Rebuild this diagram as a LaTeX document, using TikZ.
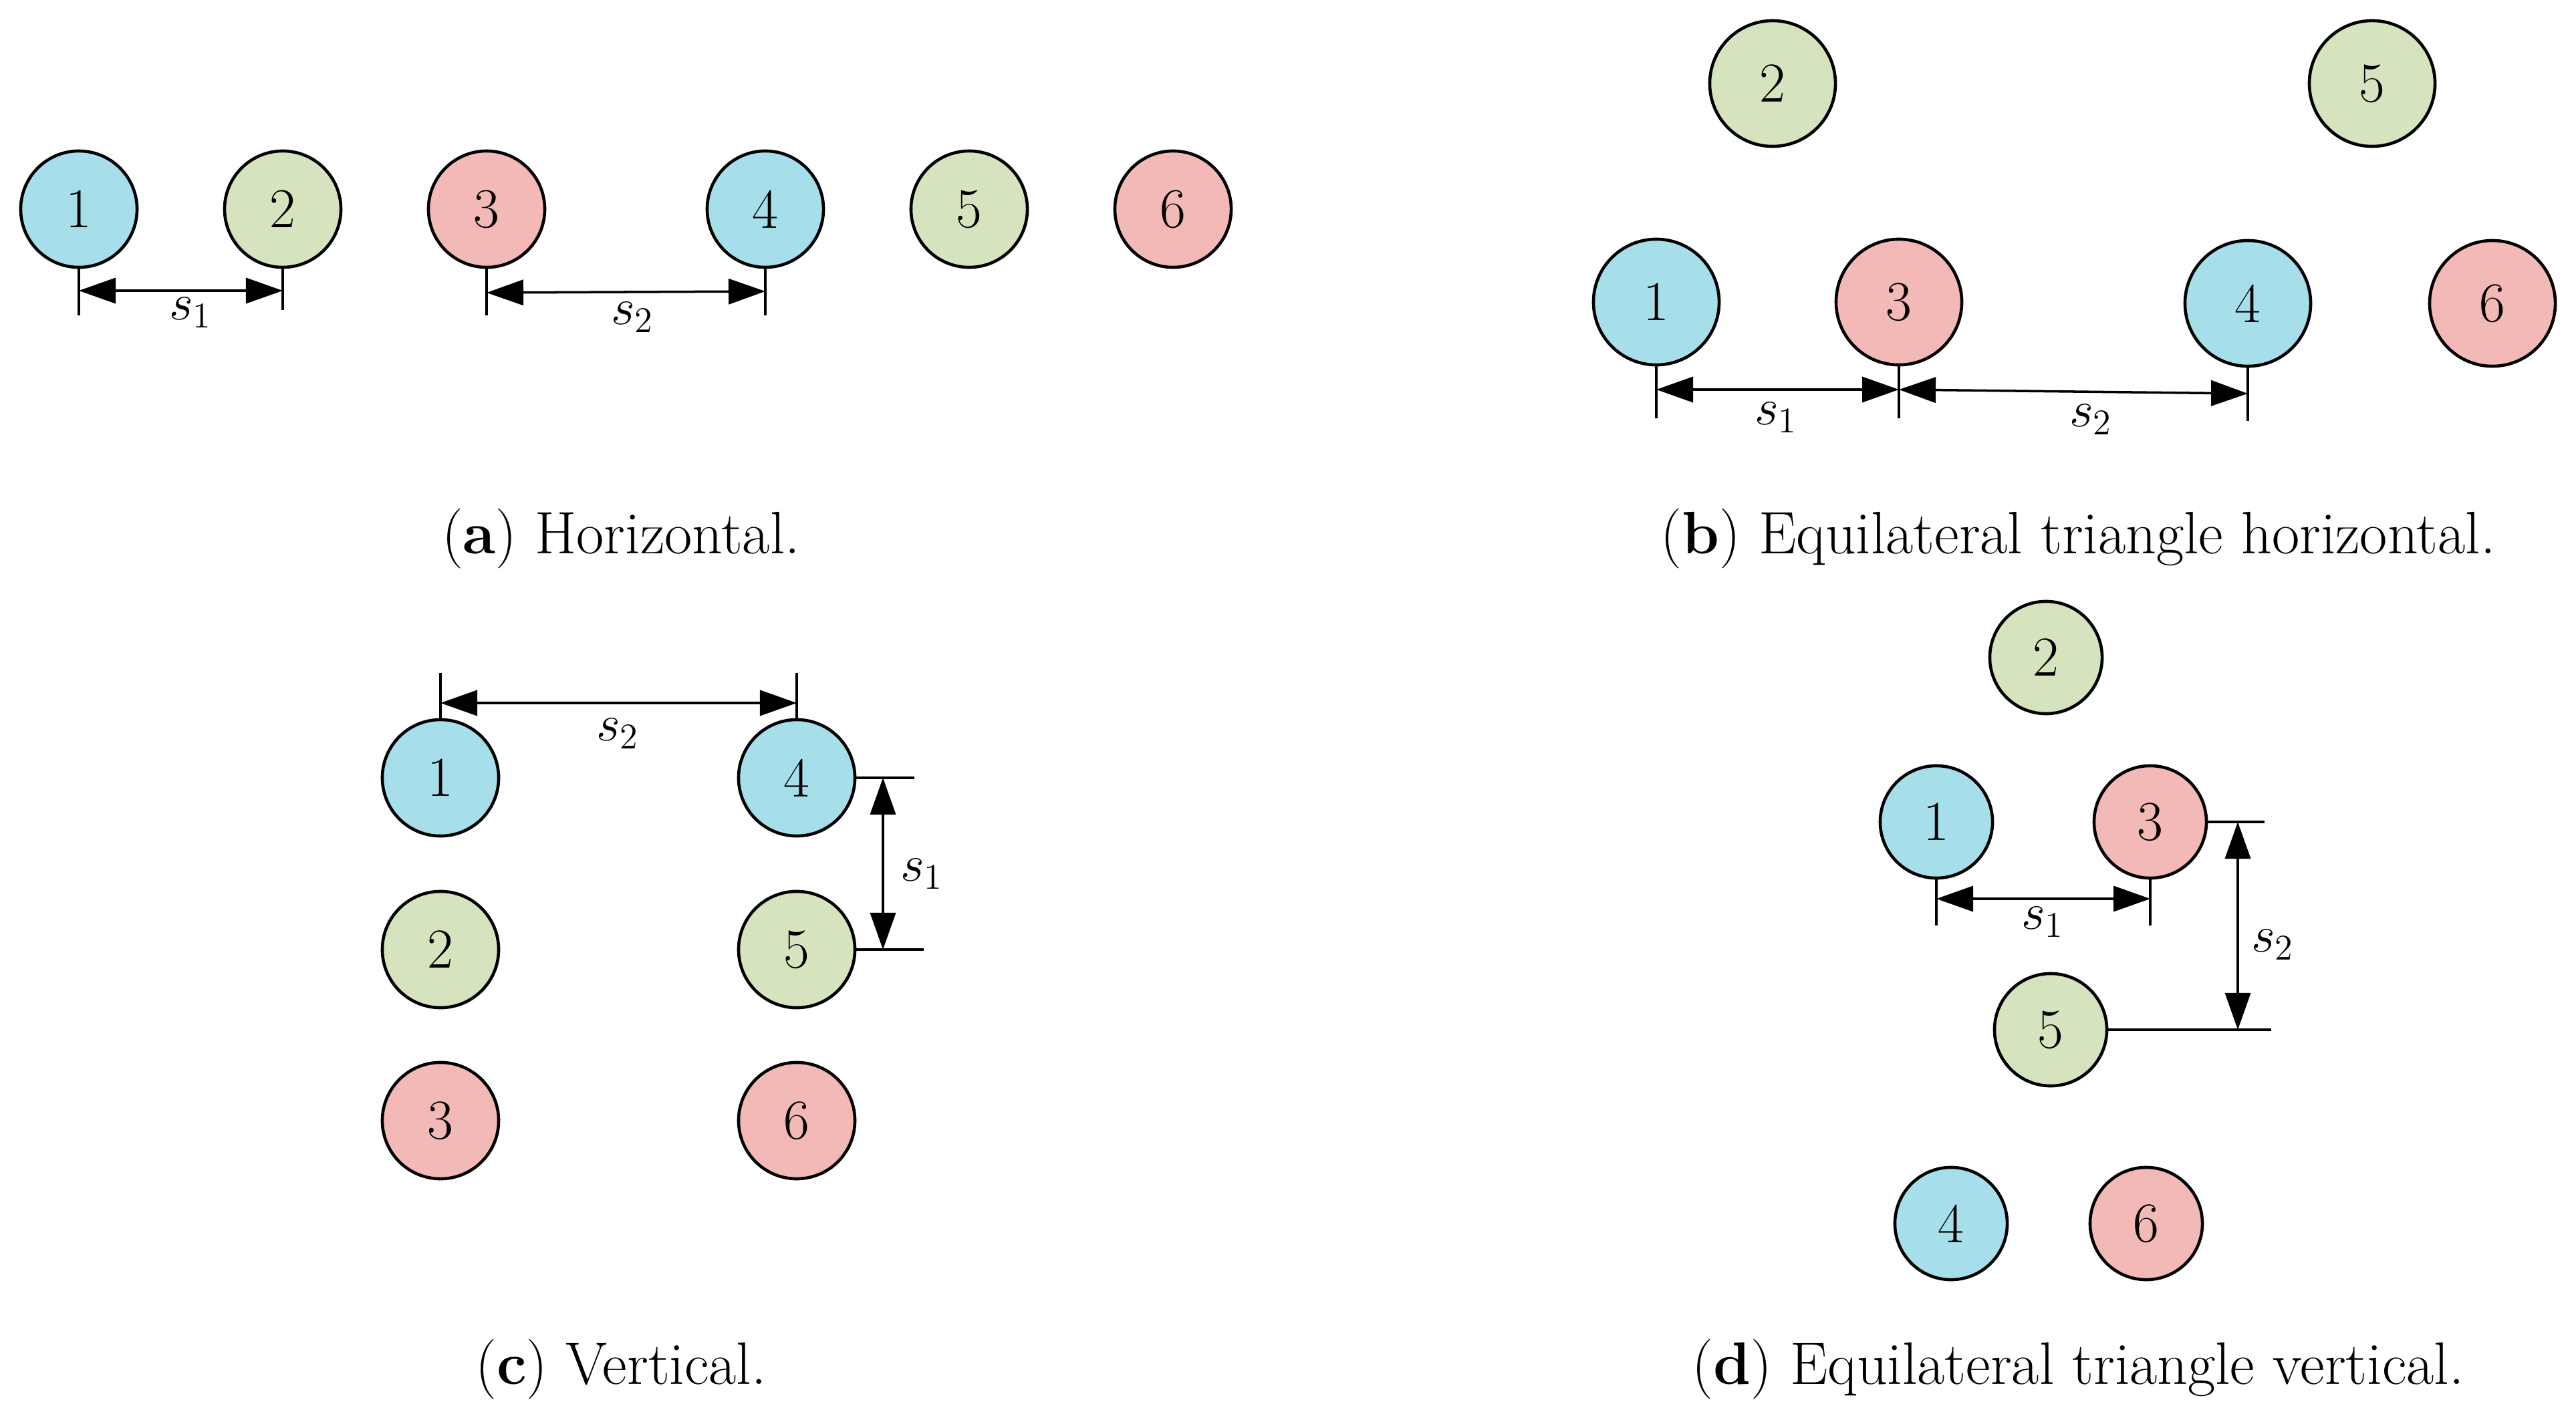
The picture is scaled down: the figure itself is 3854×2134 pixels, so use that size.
\RequirePackage{fix-cm}
\documentclass[tikz,border=0pt]{standalone}
\usetikzlibrary{arrows.meta}
\definecolor{cblue}{RGB}{166,222,234}
\definecolor{cgreen}{RGB}{213,227,190}
\definecolor{cred}{RGB}{243,185,182}
\tikzset{
  ball/.style={circle, draw, line width=1.3pt, inner sep=0pt, font=\fontsize{24}{24}\selectfont},
  bb/.style={ball, fill=cblue},
  gb/.style={ball, fill=cgreen},
  rb/.style={ball, fill=cred},
  dimline/.style={line width=1pt, {Triangle[length=0.55cm,width=0.38cm]}-{Triangle[length=0.55cm,width=0.38cm]}},
  extline/.style={line width=0.9pt},
  lab/.style={font=\fontsize{22}{22}\selectfont, inner sep=0pt},
  captext/.style={font=\fontsize{25.5}{25.5}\selectfont, inner sep=0pt}
}
\begin{document}
\begin{tikzpicture}[x=0.01cm,y=-0.01cm]
\useasboundingbox (0,0) rectangle (3854,2134);
% ---------- (a) ----------
\begin{scope}[every node/.append style={minimum size=1.74cm}]
\node[bb] (a1) at (118,313) {1};
\node[gb] (a2) at (423,313) {2};
\node[rb] (a3) at (728,313) {3};
\node[bb] (a4) at (1145,313) {4};
\node[gb] (a5) at (1450,313) {5};
\node[rb] (a6) at (1755,313) {6};
\end{scope}
\draw[extline] (a1.south) -- ++(0,70) coordinate (a1e);
\draw[extline] (a2.south) -- ++(0,62) coordinate (a2e);
\draw[extline] (a3.south) -- ++(0,70) coordinate (a3e);
\draw[extline] (a4.south) -- ++(0,70) coordinate (a4e);
\coordinate (as1l) at (118,435); \coordinate (as1r) at (423,435);
\coordinate (as2l) at (728,438); \coordinate (as2r) at (1145,436);
\draw[dimline] (as1l) -- (as1r);
\draw[dimline] (as2l) -- (as2r);
\node[lab] (as1) at (285,468) {$s_1$};
\node[lab] (as2) at (946,475) {$s_2$};
\node[captext] (capa) at (929,806) {(\textbf{a}) Horizontal.};
% ---------- (b) ----------
\begin{scope}[every node/.append style={minimum size=1.88cm}]
\node[gb] (b2) at (2652,125) {2};
\node[gb] (b5) at (3549,125) {5};
\node[bb] (b1) at (2478,452) {1};
\node[rb] (b3) at (2841,452) {3};
\node[bb] (b4) at (3363,454) {4};
\node[rb] (b6) at (3729,454) {6};
\end{scope}
\draw[extline] (b1.south) -- ++(0,78) coordinate (b1e);
\draw[extline] (b3.south) -- ++(0,78) coordinate (b3e);
\draw[extline] (b4.south) -- ++(0,80) coordinate (b4e);
\coordinate (bs1l) at (2478,583); \coordinate (bs1r) at (2841,583);
\coordinate (bs2l) at (2841,583); \coordinate (bs2r) at (3363,589);
\draw[dimline] (bs1l) -- (bs1r);
\draw[dimline] (bs2l) -- (bs2r);
\node[lab] (bs1) at (2657,625) {$s_1$};
\node[lab] (bs2) at (3128,628) {$s_2$};
\node[captext] (capb) at (3109,806) {(\textbf{b}) Equilateral triangle horizontal.};
% ---------- (c) ----------
\begin{scope}[every node/.append style={minimum size=1.74cm}]
\node[bb] (c1) at (659,1164) {1};
\node[bb] (c4) at (1192,1164) {4};
\node[gb] (c2) at (659,1421) {2};
\node[gb] (c5) at (1192,1421) {5};
\node[rb] (c3) at (659,1677) {3};
\node[rb] (c6) at (1192,1677) {6};
\end{scope}
\draw[extline] (c1.north) -- ++(0,-68) coordinate (c1e);
\draw[extline] (c4.north) -- ++(0,-68) coordinate (c4e);
\coordinate (cs2l) at (659,1052); \coordinate (cs2r) at (1192,1052);
\draw[dimline] (cs2l) -- (cs2r);
\node[lab] (cs2) at (924,1098) {$s_2$};
\draw[extline] (c4.east) -- ++(87,0) coordinate (c4f);
\draw[extline] (c5.east) -- ++(101,0) coordinate (c5f);
\coordinate (cs1t) at (1321,1164); \coordinate (cs1b) at (1321,1421);
\draw[dimline] (cs1t) -- (cs1b);
\node[lab] (cs1) at (1379,1308) {$s_1$};
\node[captext] (capc) at (929,2049) {(\textbf{c}) Vertical.};
% ---------- (d) ----------
\begin{scope}[every node/.append style={minimum size=1.68cm}]
\node[gb] (d2) at (3061,984) {2};
\node[bb] (d1) at (2897,1230) {1};
\node[rb] (d3) at (3217,1230) {3};
\node[gb] (d5) at (3068,1541) {5};
\node[bb] (d4) at (2919,1831) {4};
\node[rb] (d6) at (3211,1831) {6};
\end{scope}
\draw[extline] (d1.south) -- ++(0,69) coordinate (d1e);
\draw[extline] (d3.south) -- ++(0,69) coordinate (d3e);
\coordinate (ds1l) at (2897,1345); \coordinate (ds1r) at (3217,1345);
\draw[dimline] (ds1l) -- (ds1r);
\node[lab] (ds1) at (3056,1380) {$s_1$};
\draw[extline] (d3.east) -- ++(85,0) coordinate (d3f);
\draw[extline] (d5.east) -- ++(244,0) coordinate (d5f);
\coordinate (ds2t) at (3348,1230); \coordinate (ds2b) at (3348,1541);
\draw[dimline] (ds2t) -- (ds2b);
\node[lab] (ds2) at (3400,1414) {$s_2$};
\node[captext] (capd) at (3109,2049) {(\textbf{d}) Equilateral triangle vertical.};
\end{tikzpicture}
\end{document}
